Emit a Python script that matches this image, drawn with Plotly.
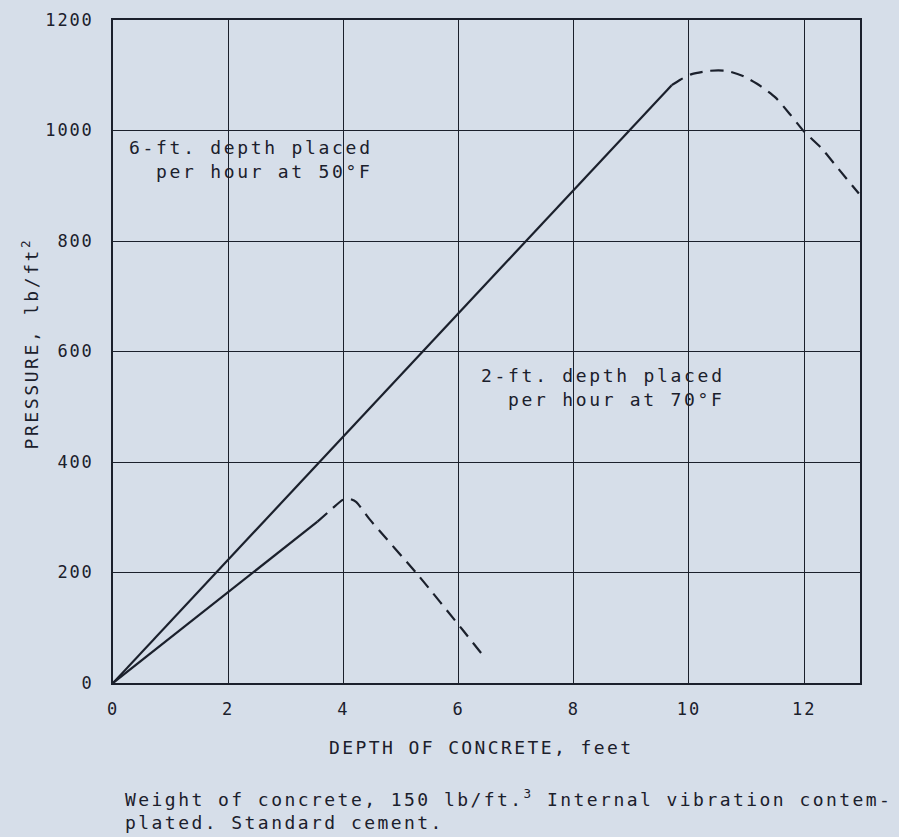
import plotly.graph_objects as go

# ---- data ----
x_ticks = [0, 2, 4, 6, 8, 10, 12]
y_ticks = [0, 200, 400, 600, 800, 1000, 1200]

# 6-ft depth per hour at 50°F
six_solid_x = [0, 9.7]
six_solid_y = [0, 1082]
six_dash_x = [9.7, 9.85, 10.05, 10.35, 10.65, 10.95, 11.25, 11.5, 11.75, 12.0, 12.3, 12.6, 12.95]
six_dash_y = [1082, 1092, 1102, 1108, 1108, 1098, 1080, 1060, 1030, 998, 968, 930, 886]

# 2-ft depth per hour at 70°F
two_solid_x = [0, 3.55]
two_solid_y = [0, 292]
two_dash_x = [3.55, 3.8, 3.98, 4.08, 4.22, 4.45, 5.3, 6.08, 6.4]
two_dash_y = [292, 315, 331, 334, 328, 297, 195, 95, 53]

x_title = "DEPTH OF CONCRETE, feet"
y_title = "PRESSURE, lb/ft<sup>2</sup>"
label_six = ["6-ft. depth placed", "per hour at 50°F"]
label_six_y = [970, 925]
label_six_x = 4.55
label_two = ["2-ft. depth placed", "per hour at 70°F"]
label_two_y = [556, 513]
label_two_x = 10.66
caption = "Weight of concrete, 150 lb/ft.<sup>3</sup> Internal vibration contem-<br>plated. Standard cement."

# ---- style ----
BG = "#d6dee9"
INK = "#1b202c"
FONT = "DejaVu Sans Mono"


def spaced(t, px):
    return '<span style="letter-spacing:%spx">%s</span>' % (px, t)


fig = go.Figure()
for xs, ys, dash, shp in [(six_solid_x, six_solid_y, "solid", "linear"),
                          (six_dash_x, six_dash_y, "13px,8px", "spline"),
                          (two_solid_x, two_solid_y, "solid", "linear"),
                          (two_dash_x, two_dash_y, "13px,8px", "spline")]:
    fig.add_trace(go.Scatter(x=xs, y=ys, mode="lines",
                             line=dict(color=INK, width=2.2, dash=dash, shape=shp, smoothing=0.6),
                             showlegend=False, hoverinfo="skip"))

axis_common = dict(showgrid=True, gridcolor=INK, gridwidth=1.3, zeroline=False,
                   showline=True, linecolor=INK, linewidth=2.2, mirror=True, ticks="",
                   tickfont=dict(family=FONT, size=17, color=INK))

fig.update_xaxes(range=[0, 12.97], tickvals=x_ticks,
                 ticktext=[spaced(str(v), 2) for v in x_ticks],
                 ticklabelstandoff=9, **axis_common)
fig.update_yaxes(range=[0, 1200], tickvals=y_ticks,
                 ticktext=[spaced(str(v), 1.8) for v in y_ticks],
                 ticklabelstandoff=14, **axis_common)

tf = dict(family=FONT, size=18, color=INK)
ann = [
    dict(text=spaced(x_title, 2.4), xref="paper", yref="paper", x=0.493, y=0, yshift=-64,
         xanchor="center", yanchor="middle", showarrow=False, font=tf),
    dict(text=spaced(y_title, 2.6), xref="paper", yref="paper", x=0, xshift=-83, y=0.512,
         xanchor="center", yanchor="middle", textangle=-90, showarrow=False, font=tf),
    dict(text=spaced(caption, 2.45), xref="paper", yref="paper", x=(123 - 113) / 747, y=0, yshift=-126,
         xanchor="left", yanchor="middle", align="left", showarrow=False, font=tf),
]
for txt, yy in zip(label_six, label_six_y):
    ann.append(dict(text=spaced(txt, 2.7), xref="x", yref="y", x=label_six_x, y=yy,
                    xanchor="right", yanchor="middle", showarrow=False, font=tf))
for txt, yy in zip(label_two, label_two_y):
    ann.append(dict(text=spaced(txt, 2.7), xref="x", yref="y", x=label_two_x, y=yy,
                    xanchor="right", yanchor="middle", showarrow=False, font=tf))

fig.update_layout(width=899, height=837, margin=dict(l=113, r=39, t=10, b=154),
                  paper_bgcolor=BG, plot_bgcolor=BG, annotations=ann,
                  font=dict(family=FONT, color=INK))

fig.write_html("out.html", config={"displayModeBar": False},
               post_script="document.body.style.margin='0';document.body.style.overflow='hidden';"
                           "document.body.style.background='%s';" % BG)
